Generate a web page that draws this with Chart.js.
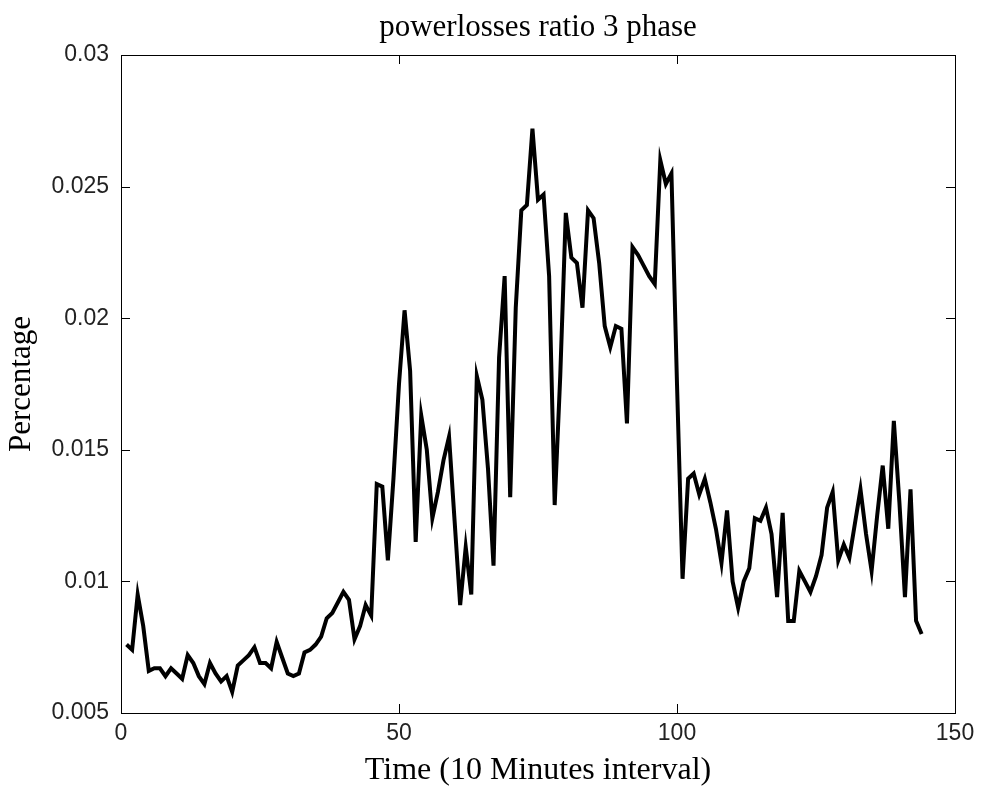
<!DOCTYPE html>
<html>
<head>
<meta charset="utf-8">
<title>powerlosses ratio 3 phase</title>
<script src="https://cdn.jsdelivr.net/npm/chart.js@4.4.1/dist/chart.umd.min.js"></script>
<style>
  html, body { margin: 0; padding: 0; background: #fff; }
  #wrap { width: 982px; height: 790px; }
</style>
</head>
<body>
<div id="wrap"><canvas id="chartLosses" width="982" height="790"></canvas></div>
<script>
// power losses ratio, one sample every 10 minutes (samples 1..144)
const lossRatio = [
  0.0076, 0.0074, 0.0095, 0.0083, 0.0066, 0.0067, 0.0067, 0.0064, 0.0067, 0.0065,
  0.0063, 0.0072, 0.0069, 0.0064, 0.0061, 0.0069, 0.0065, 0.0062, 0.0064, 0.0058,
  0.0068, 0.0070, 0.0072, 0.0075, 0.0069, 0.0069, 0.0067, 0.0077, 0.0071, 0.0065,
  0.0064, 0.0065, 0.0073, 0.0074, 0.0076, 0.0079, 0.0086, 0.0088, 0.0092, 0.0096,
  0.0093, 0.0078, 0.0083, 0.0091, 0.0087, 0.0137, 0.0136, 0.0108, 0.0139, 0.0175,
  0.0203, 0.0180, 0.0115, 0.0163, 0.0150, 0.0124, 0.0134, 0.0146, 0.0155, 0.0123,
  0.0091, 0.0113, 0.0095, 0.0178, 0.0169, 0.0143, 0.0106, 0.0185, 0.0216, 0.0132,
  0.0204, 0.0241, 0.0243, 0.0272, 0.0245, 0.0247, 0.0216, 0.0129, 0.0178, 0.0240,
  0.0223, 0.0221, 0.0204, 0.0241, 0.0238, 0.0221, 0.0197, 0.0189, 0.0197, 0.0196,
  0.0160, 0.0227, 0.0224, 0.0220, 0.0216, 0.0213, 0.0260, 0.0251, 0.0255, 0.0175,
  0.0101, 0.0139, 0.0141, 0.0133, 0.0139, 0.0130, 0.0120, 0.0107, 0.0127, 0.0100,
  0.0090, 0.0100, 0.0105, 0.0124, 0.0123, 0.0128, 0.0118, 0.0094, 0.0126, 0.0085,
  0.0085, 0.0104, 0.0100, 0.0096, 0.0102, 0.0110, 0.0128, 0.0134, 0.0108, 0.0114,
  0.0109, 0.0122, 0.0135, 0.0118, 0.0104, 0.0125, 0.0144, 0.0120, 0.0161, 0.0130,
  0.0094, 0.0135, 0.0085, 0.0080
];
const sampleNo = lossRatio.map((v, i) => i + 1);

const xTicks = [0, 50, 100, 150];
const yTicks = [0.005, 0.01, 0.015, 0.02, 0.025, 0.03];

const tituloGrafica = 'powerlosses ratio 3 phase';

const tickFont = { family: "'Liberation Sans', Arial, sans-serif", size: 23 };
const serif = "'Liberation Serif', 'Times New Roman', serif";

// caja estilo matlab con marcas hacia dentro en los cuatro lados,
// y el título centrado sobre el área de los ejes
const cajaEjes = {
  id: 'cajaEjes',
  afterDraw(chart) {
    const { ctx, chartArea: a, scales: { x, y } } = chart;
    const len = 9;
    ctx.save();
    ctx.strokeStyle = '#000';
    ctx.lineWidth = 1;
    ctx.beginPath();
    xTicks.forEach(v => {
      const px = Math.round(x.getPixelForValue(v)) + 0.5;
      ctx.moveTo(px, a.bottom); ctx.lineTo(px, a.bottom - len);
      ctx.moveTo(px, a.top); ctx.lineTo(px, a.top + len);
    });
    yTicks.forEach(v => {
      const py = Math.round(y.getPixelForValue(v)) + 0.5;
      ctx.moveTo(a.left, py); ctx.lineTo(a.left + len, py);
      ctx.moveTo(a.right, py); ctx.lineTo(a.right - len, py);
    });
    ctx.stroke();
    ctx.strokeRect(Math.round(a.left) + 0.5, Math.round(a.top) + 0.5,
                   Math.round(a.right - a.left), Math.round(a.bottom - a.top));

    ctx.fillStyle = '#000';
    ctx.font = '31px ' + serif;
    ctx.textAlign = 'center';
    ctx.textBaseline = 'middle';
    ctx.fillText(tituloGrafica, (a.left + a.right) / 2, 28);
    ctx.restore();
  }
};

new Chart(document.getElementById('chartLosses'), {
  type: 'line',
  data: {
    labels: sampleNo,
    datasets: [{
      data: sampleNo.map((t, i) => ({ x: t, y: lossRatio[i] })),
      borderColor: '#000',
      borderWidth: 4,
      pointRadius: 0,
      tension: 0,
      fill: false
    }]
  },
  options: {
    responsive: false,
    animation: false,
    devicePixelRatio: 1,
    layout: { padding: { left: 0, right: 27, top: 55, bottom: 0 } },
    plugins: {
      legend: { display: false },
      tooltip: { enabled: false },
      title: { display: false }
    },
    scales: {
      x: {
        type: 'linear',
        min: 0, max: 150,
        afterFit: s => { s.height = 77; },
        afterBuildTicks: s => { s.ticks = xTicks.map(v => ({ value: v })); },
        grid: { display: false, drawTicks: false },
        border: { display: false },
        ticks: { color: '#222', font: tickFont, padding: 7, maxRotation: 0 },
        title: {
          display: true,
          text: 'Time (10 Minutes interval)',
          color: '#000',
          font: { family: serif, size: 32 },
          padding: { top: 0, bottom: 0 }
        }
      },
      y: {
        min: 0.005, max: 0.03,
        afterFit: s => { s.width = 121; },
        afterBuildTicks: s => { s.ticks = yTicks.map(v => ({ value: v })); },
        grid: { display: false, drawTicks: false },
        border: { display: false },
        ticks: {
          color: '#222', font: tickFont, padding: 12,
          callback: v => String(+v.toFixed(3))
        },
        title: {
          display: true,
          text: 'Percentage',
          color: '#000',
          font: { family: serif, size: 31 },
          padding: { top: 3, bottom: 0 }
        }
      }
    }
  },
  plugins: [cajaEjes]
});
</script>
</body>
</html>
